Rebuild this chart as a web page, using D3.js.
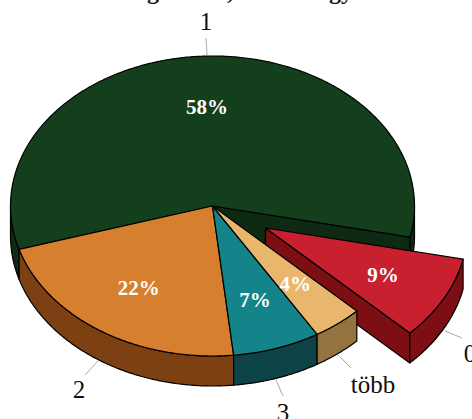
<!DOCTYPE html>
<html><head><meta charset="utf-8">
<script src="https://cdnjs.cloudflare.com/ajax/libs/d3/7.8.5/d3.min.js"></script>
<style>html,body{margin:0;padding:0;background:#fff}svg{display:block}</style>
</head><body><div id="c"></div>
<script>
const categories = ["0", "több", "3", "2", "1"];
const values = [9, 4, 7, 22, 58];
const percentLabels = ["9%", "4%", "7%", "22%", "58%"];
const topColors = ["#c8202f", "#e8b76d", "#12848a", "#d67f2e", "#133f1c"];
const sideColors = ["#7d0e14", "#94733f", "#0d4246", "#7c4012", "#0e2a13"];
const titleFragments = ["g", ",", "gy"];
const titleFragmentX = [153, 230, 341];

const W = 472, H = 419, cx = 212.5, cy = 206, rx = 202, ry = 150, depth = 30;
const explodeIndex = 0, explodeDx = 53, explodeDy = 22;
const startDeg = 12;
const svg = d3.select("#c").append("svg").attr("width", W).attr("height", H)
  .style("font-family", "'Liberation Serif','Times New Roman',serif");

// d3.pie angles: 0 at 12 o'clock, clockwise
const pie = d3.pie().sort(null)
  .startAngle((startDeg + 90) * Math.PI / 180)
  .endAngle((startDeg + 90 + 360) * Math.PI / 180);
const arcs = pie(values);
const xS = d3.scaleLinear().domain([-1, 1]).range([cx - rx, cx + rx]);
const yS = d3.scaleLinear().domain([-1, 1]).range([cy - ry, cy + ry]);
const pt = (a, f = 1) => [xS(Math.sin(a) * f), yS(-Math.cos(a) * f)];
const line = d3.line();

function samples(a0, a1) {
  const n = Math.max(2, Math.ceil((a1 - a0) / 0.01));
  return d3.range(n + 1).map(i => a0 + (a1 - a0) * i / n);
}
// Parts of [a0,a1] where the outer wall faces the viewer (lower half of ellipse)
function frontRanges(a0, a1) {
  const out = [], P = Math.PI, T = 2 * P;
  for (let k = 0; k < 3; k++) {
    const lo = Math.max(a0, P / 2 + k * T), hi = Math.min(a1, 3 * P / 2 + k * T);
    if (hi > lo) out.push([lo, hi]);
  }
  return out;
}
function drawSlice(i) {
  const d = arcs[i];
  const g = svg.append("g").attr("class", "slice");
  if (i === explodeIndex) g.attr("transform", `translate(${explodeDx},${explodeDy})`);
  const attrs = s => s.attr("stroke", "#000").attr("stroke-width", 1.2).attr("stroke-linejoin", "round");
  // radial wall at the slice end that faces the viewer
  const radial = (a) => {
    const p = pt(a), c = [cx, cy];
    g.append("path").attr("d", line([c, p, [p[0], p[1] + depth], [c[0], c[1] + depth]]) + "Z")
      .attr("fill", sideColors[i]).call(attrs);
  };
  if (categories[i] === "1") radial(d.endAngle);
  if (categories[i] === "0") radial(d.endAngle);
  frontRanges(d.startAngle, d.endAngle).forEach(([a, b]) => {
    const upper = samples(a, b).map(t => pt(t));
    const lower = upper.slice().reverse().map(p => [p[0], p[1] + depth]);
    g.append("path").attr("d", line(upper.concat(lower)) + "Z")
      .attr("fill", sideColors[i]).call(attrs);
  });
  const top = [[cx, cy]].concat(samples(d.startAngle, d.endAngle).map(t => pt(t)));
  g.append("path").attr("d", line(top) + "Z").attr("fill", topColors[i]).call(attrs);
}
// back to front: largest slice, exploded slice, then the rest
[4, 0, 3, 2, 1].forEach(drawSlice);

// percent labels
arcs.forEach((d, i) => {
  const mid = (d.startAngle + d.endAngle) / 2, p = pt(mid, 0.66);
  const off = i === explodeIndex ? [explodeDx, explodeDy] : [0, 0];
  svg.append("text").attr("x", p[0] + off[0]).attr("y", p[1] + off[1] + 7)
    .attr("text-anchor", "middle").attr("font-size", 21).attr("font-weight", "bold")
    .attr("fill", "#fff").text(percentLabels[i]);
});

// category labels with leader lines, positioned by their category
const labelLayout = {
  "1": {line: [[206, 38], [207, 55]], text: [206, 30]},
  "2": {line: [[98, 361], [85, 375]], text: [79, 398]},
  "3": {line: [[276, 380], [283, 396]], text: [283, 421]},
  "több": {line: [[338, 355], [351, 368]], text: [373, 393]},
  "0": {line: [[445, 331], [462, 338]], text: [470, 362]}
};
categories.forEach(c => {
  const l = labelLayout[c];
  svg.append("path").attr("d", line(l.line)).attr("stroke", "#a8a8a8").attr("stroke-width", 1).attr("fill", "none");
  svg.append("text").attr("x", l.text[0]).attr("y", l.text[1]).attr("text-anchor", "middle")
    .attr("font-size", 25).attr("fill", "#111").text(c);
});

// the title is cut off by the top edge of the picture: only descenders remain
titleFragments.forEach((t, i) => {
  svg.append("text").attr("x", titleFragmentX[i]).attr("y", -1).attr("text-anchor", "middle")
    .attr("font-size", 24).attr("font-weight", "bold").attr("fill", "#111").text(t);
});
</script></body></html>
